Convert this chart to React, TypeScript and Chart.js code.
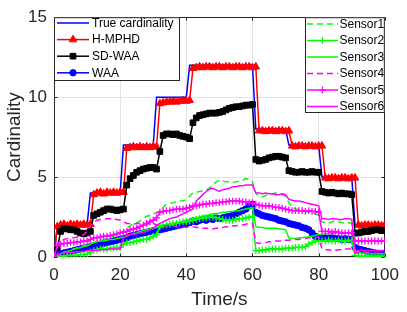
import React, { useEffect, useRef } from "react";
import { Chart, registerables } from "chart.js";

Chart.register(...registerables);

// ---------------- data ----------------
const timeS = [
  0, 1, 2, 3, 4, 5, 6, 7, 8, 9, 10, 11, 12, 13, 14, 15, 16, 17, 18, 19, 20,
  21, 22, 23, 24, 25, 26, 27, 28, 29, 30, 31, 32, 33, 34, 35, 36, 37, 38, 39, 40,
  41, 42, 43, 44, 45, 46, 47, 48, 49, 50, 51, 52, 53, 54, 55, 56, 57, 58, 59, 60,
  61, 62, 63, 64, 65, 66, 67, 68, 69, 70, 71, 72, 73, 74, 75, 76, 77, 78, 79, 80,
  81, 82, 83, 84, 85, 86, 87, 88, 89, 90, 91, 92, 93, 94, 95, 96, 97, 98, 99, 100,
];

const trueCardinality = [
  0,
  2, 2, 2, 2, 2, 2, 2, 2, 2, 2,
  4, 4, 4, 4, 4, 4, 4, 4, 4, 4,
  7, 7, 7, 7, 7, 7, 7, 7, 7, 7,
  10, 10, 10, 10, 10, 10, 10, 10, 10, 10,
  12, 12, 12, 12, 12, 12, 12, 12, 12, 12, 12, 12, 12, 12, 12, 12, 12, 12, 12, 12,
  8, 8, 8, 8, 8, 8, 8, 8, 8, 8,
  7, 7, 7, 7, 7, 7, 7, 7, 7, 7,
  5, 5, 5, 5, 5, 5, 5, 5, 5, 5,
  2, 2, 2, 2, 2, 2, 2, 2, 2, 2,
];

const hmphd = [
  0,
  1.9, 2.0, 2.05, 1.95, 2.05, 2.0, 2.05, 2.0, 2.05, 2.0, 2.05,
  3.9, 4.0, 4.05, 3.95, 4.05, 4.0, 4.05, 4.0, 4.05, 4.05,
  6.8, 6.85, 6.9, 6.85, 6.9, 6.85, 6.9, 6.85, 6.9, 6.9,
  9.6, 9.65, 9.7, 9.7, 9.75, 9.7, 9.75, 9.8, 9.75, 9.8,
  11.8, 11.85, 11.9, 11.85, 11.9, 11.9, 11.85, 11.9, 11.9, 11.85,
  11.9, 11.9, 11.85, 11.9, 11.9, 11.85, 11.9, 11.9, 11.85, 11.9,
  7.9, 7.9, 7.85, 7.9, 7.9, 7.85, 7.9, 7.9, 7.85, 7.9,
  6.95, 6.9, 6.95, 6.95, 6.9, 6.95, 6.95, 6.9, 6.95, 6.95,
  4.95, 4.9, 4.95, 4.95, 4.9, 4.95, 4.95, 4.9, 4.95, 4.95,
  2.0, 1.95, 2.0, 2.0, 1.95, 2.0, 2.0, 1.95, 2.0,
];

const sdwaa = [
  0, 0.5, 1.6, 1.8, 1.75, 1.7, 1.7, 1.6, 1.5, 1.45, 1.5, 1.6,
  2.6, 2.7, 2.8, 2.9, 3.0, 3.0, 2.95, 2.9, 2.95, 3.0,
  4.5, 4.9, 5.1, 5.3, 5.4, 5.5, 5.55, 5.6, 5.6, 5.5,
  6.6, 7.6, 7.7, 7.7, 7.65, 7.7, 7.6, 7.55, 7.5, 7.4,
  8.4, 8.7, 8.85, 8.9, 8.95, 9.0, 9.0, 9.0, 9.05, 9.1, 9.2, 9.3, 9.35, 9.4, 9.4, 9.45, 9.5, 9.5, 9.55,
  6.1, 6.0, 6.05, 6.1, 6.2, 6.25, 6.3, 6.3, 6.25, 6.2,
  5.4, 5.35, 5.3, 5.3, 5.35, 5.3, 5.3, 5.35, 5.3, 5.3,
  4.1, 4.05, 4.0, 4.05, 4.0, 3.95, 4.0, 3.95, 3.95, 3.9,
  1.5, 1.5, 1.55, 1.6, 1.6, 1.65, 1.7, 1.7, 1.65, 1.65,
];

const waa = [
  0, 0.1, 0.2, 0.25, 0.3, 0.35, 0.4, 0.45, 0.5, 0.55, 0.6,
  0.65, 0.7, 0.75, 0.8, 0.85, 0.9, 0.95, 1.0, 1.05, 1.1,
  1.15, 1.2, 1.3, 1.35, 1.4, 1.45, 1.5, 1.55, 1.6, 1.65,
  1.7, 1.7, 1.75, 1.8, 1.85, 1.9, 1.95, 2.0, 2.05, 2.1,
  2.15, 2.25, 2.2, 2.3, 2.35, 2.3, 2.4, 2.35, 2.45, 2.4,
  2.45, 2.5, 2.55, 2.6, 2.7, 2.8, 2.9, 3.0, 3.2, 3.3,
  2.8, 2.7, 2.6, 2.55, 2.5, 2.45, 2.4, 2.3, 2.25, 2.2,
  2.1, 2.05, 2.0, 1.95, 1.85, 1.8, 1.7, 1.5, 1.3, 1.2,
  1.2, 1.2, 1.15, 1.2, 1.15, 1.15, 1.1, 1.15, 1.1, 1.1,
  0.6, 0.5, 0.45, 0.4, 0.35, 0.3, 0.25, 0.2, 0.2, 0.15,
];

const sensor1 = [
  0, 0.1, 0.2, 0.3, 0.35, 0.4, 0.5, 0.55, 0.6, 0.7, 0.75,
  0.85, 0.9, 1.0, 1.05, 1.1, 1.2, 1.25, 1.3, 1.4, 1.5,
  1.6, 1.8, 1.95, 2.1, 2.15, 2.25, 2.4, 2.55, 2.6, 2.7,
  2.75, 2.9, 3.1, 3.3, 3.35, 3.4, 3.45, 3.5, 3.5, 3.6,
  3.8, 4.0, 4.05, 4.1, 4.15, 4.2, 4.3, 4.5, 4.7, 4.8,
  4.75, 4.7, 4.7, 4.65, 4.7, 4.75, 4.8, 4.9, 4.85, 4.7,
  4.0, 3.8, 3.75, 3.85, 3.9, 3.95, 4.0, 3.95, 3.9, 3.8,
  3.4, 3.1, 3.0, 2.95, 2.9, 2.85, 2.8, 2.75, 2.7, 2.6,
  2.2, 2.15, 2.1, 2.2, 2.25, 2.2, 2.15, 2.1, 2.15, 2.1,
  0.4, 0.35, 0.3, 0.3, 0.25, 0.25, 0.2, 0.2, 0.2, 0.2,
];

const sensor2 = [
  0, 0, 0.05, 0.05, 0.1, 0.1, 0.1, 0.1, 0.15, 0.15, 0.2,
  0.3, 0.4, 0.45, 0.5, 0.5, 0.5, 0.55, 0.55, 0.6, 0.6,
  0.8, 0.9, 0.9, 0.95, 1.0, 1.05, 1.1, 1.1, 1.2, 1.3,
  1.4, 1.9, 2.0, 2.0, 2.05, 2.1, 2.1, 2.15, 2.2, 2.2,
  2.25, 2.3, 2.35, 2.4, 2.45, 2.45, 2.5, 2.5, 2.45, 2.4,
  2.35, 2.3, 2.3, 2.3, 2.35, 2.4, 2.4, 2.45, 2.5, 2.5,
  0.4, 0.4, 0.45, 0.45, 0.5, 0.5, 0.5, 0.5, 0.5, 0.55,
  0.55, 0.55, 0.6, 0.6, 0.6, 0.65, 0.8, 0.9, 1.0, 1.0,
  1.0, 1.0, 1.05, 1.0, 1.0, 1.05, 1.0, 1.0, 1.05, 1.0,
  0.1, 0.05, 0.05, 0.05, 0.05, 0.05, 0.05, 0.05, 0.05, 0.05,
];

const sensor3 = [
  0, 0.1, 0.2, 0.3, 0.35, 0.4, 0.5, 0.55, 0.6, 0.65, 0.7,
  0.8, 0.9, 0.95, 1.0, 1.0, 1.05, 1.1, 1.1, 1.15, 1.2,
  1.25, 1.3, 1.4, 1.45, 1.5, 1.6, 1.65, 1.7, 1.75, 1.8,
  1.85, 1.9, 1.9, 1.95, 2.0, 2.0, 2.1, 2.15, 2.2, 2.3,
  2.35, 2.4, 2.45, 2.5, 2.55, 2.6, 2.65, 2.7, 2.7, 2.75,
  2.8, 2.8, 2.85, 2.85, 2.9, 2.9, 2.95, 3.0, 3.05, 3.1,
  1.9, 1.85, 1.85, 1.8, 1.8, 1.8, 1.8, 1.75, 1.75, 1.7,
  1.2, 1.15, 1.15, 1.2, 1.2, 1.25, 1.25, 1.3, 1.35, 1.4,
  1.4, 1.45, 1.45, 1.45, 1.5, 1.5, 1.5, 1.5, 1.5, 1.5,
  0.3, 0.25, 0.25, 0.2, 0.2, 0.2, 0.2, 0.2, 0.2, 0.2,
];

const sensor4 = [
  0, 0.8, 1.0, 1.1, 1.15, 1.2, 1.2, 1.25, 1.3, 1.4, 1.6,
  1.9, 2.2, 2.3, 2.35, 2.35, 2.4, 2.4, 2.4, 2.35, 2.3,
  2.2, 2.1, 2.1, 2.05, 2.1, 2.1, 2.1, 2.05, 2.1, 2.1,
  2.0, 2.0, 1.95, 1.95, 2.0, 1.95, 1.9, 1.9, 1.9, 1.85,
  1.9, 1.9, 1.85, 1.85, 1.8, 1.8, 1.8, 1.75, 1.8, 1.8,
  1.85, 1.9, 1.9, 1.95, 1.95, 2.0, 2.0, 2.05, 2.1, 2.1,
  0.9, 0.85, 0.9, 0.9, 0.95, 0.95, 1.0, 1.0, 1.0, 1.05,
  1.05, 1.1, 1.1, 1.1, 1.15, 1.15, 1.2, 1.2, 1.2, 1.25,
  0.5, 0.45, 0.45, 0.4, 0.4, 0.45, 0.45, 0.5, 0.5, 0.5,
  0.25, 0.25, 0.25, 0.25, 0.25, 0.25, 0.25, 0.25, 0.25, 0.25,
];

const sensor5 = [
  0, 0.7, 0.8, 0.85, 0.85, 0.9, 0.9, 0.95, 0.95, 1.0, 1.0,
  1.1, 1.2, 1.2, 1.25, 1.3, 1.3, 1.35, 1.4, 1.45, 1.5,
  1.55, 1.6, 1.7, 1.75, 1.8, 1.9, 2.0, 2.1, 2.2, 2.3,
  2.45, 2.8, 2.85, 2.9, 2.9, 2.95, 3.0, 3.0, 3.0, 3.05,
  3.1, 3.2, 3.2, 3.25, 3.3, 3.3, 3.35, 3.35, 3.4, 3.4,
  3.45, 3.45, 3.5, 3.5, 3.5, 3.5, 3.45, 3.45, 3.4, 3.4,
  3.3, 3.25, 3.2, 3.2, 3.2, 3.15, 3.1, 3.1, 3.05, 3.0,
  2.95, 2.9, 2.9, 2.9, 2.9, 2.85, 2.9, 2.85, 2.85, 2.8,
  1.6, 1.6, 1.6, 1.55, 1.6, 1.55, 1.5, 1.5, 1.5, 1.5,
  1.0, 1.0, 1.0, 1.0, 1.0, 1.0, 1.0, 1.0, 1.0, 1.0,
];

const sensor6 = [
  0, 0.15, 0.2, 0.25, 0.3, 0.3, 0.3, 0.35, 0.35, 0.35, 0.4,
  0.4, 0.4, 0.4, 0.45, 0.45, 0.45, 0.5, 0.5, 0.5, 0.5,
  1.2, 1.35, 1.4, 1.4, 1.45, 1.5, 1.55, 1.6, 1.7, 1.75,
  2.0, 2.1, 2.2, 2.3, 2.4, 2.45, 2.5, 2.6, 2.7, 2.8,
  2.9, 3.0, 3.5, 3.7, 3.9, 4.1, 4.25, 4.3, 4.2, 4.1,
  4.2, 4.25, 4.3, 4.4, 4.4, 4.45, 4.45, 4.5, 4.5, 4.5,
  4.0, 4.0, 3.95, 4.0, 3.95, 3.95, 3.9, 3.9, 3.95, 3.9,
  3.6, 3.55, 3.5, 3.5, 3.45, 3.4, 3.35, 3.3, 3.25, 3.2,
  2.4, 2.4, 2.35, 2.4, 2.4, 2.35, 2.35, 2.4, 2.4, 2.35,
  0.4, 0.4, 0.4, 0.4, 0.4, 0.4, 0.4, 0.4, 0.4, 0.4,
];

const seriesLabels = [
  "True cardinality", "H-MPHD", "SD-WAA", "WAA",
  "Sensor1", "Sensor2", "Sensor3", "Sensor4", "Sensor5", "Sensor6",
];
const seriesValues = [
  trueCardinality, hmphd, sdwaa, waa,
  sensor1, sensor2, sensor3, sensor4, sensor5, sensor6,
];
const xTicks = [0, 20, 40, 60, 80, 100];
const yTicks = [0, 5, 10, 15];

// ---------------- styles ----------------
const W = 407;
const H = 312;
const AXIS = "#262626";
const GRID = "#e3e3e3";
const FONT = '"Liberation Sans", Arial, Helvetica, sans-serif';

type Marker = "triangle" | "rect" | "circle" | "cross" | null;
interface SeriesStyle { color: string; dash: number[]; marker: Marker; radius: number; }

const seriesStyles: SeriesStyle[] = [
  { color: "#0000ff", dash: [], marker: null, radius: 0 },
  { color: "#ff0000", dash: [], marker: "triangle", radius: 4.4 },
  { color: "#000000", dash: [], marker: "rect", radius: 4 },
  { color: "#0000ff", dash: [], marker: "circle", radius: 3.2 },
  { color: "#00ff00", dash: [6, 4], marker: null, radius: 0 },
  { color: "#00ff00", dash: [], marker: "cross", radius: 3.4 },
  { color: "#00ff00", dash: [], marker: null, radius: 0 },
  { color: "#ff00ff", dash: [6, 4], marker: null, radius: 0 },
  { color: "#ff00ff", dash: [], marker: "cross", radius: 3.4 },
  { color: "#ff00ff", dash: [], marker: null, radius: 0 },
];

function drawMarker(ctx: CanvasRenderingContext2D, m: Marker, x: number, y: number, r: number, color: string) {
  if (!m) return;
  ctx.save();
  ctx.setLineDash([]);
  ctx.fillStyle = color;
  ctx.strokeStyle = color;
  ctx.lineWidth = 1;
  ctx.beginPath();
  if (m === "triangle") {
    const h = r * 1.5;
    const w = r * Math.sqrt(3);
    ctx.moveTo(x, y - r);
    ctx.lineTo(x + w / 2, y - r + h);
    ctx.lineTo(x - w / 2, y - r + h);
    ctx.closePath();
    ctx.fill();
    ctx.stroke();
  } else if (m === "rect") {
    const s = r * Math.SQRT1_2;
    ctx.rect(x - s, y - s, 2 * s, 2 * s);
    ctx.fill();
    ctx.stroke();
  } else if (m === "circle") {
    ctx.arc(x, y, r, 0, Math.PI * 2);
    ctx.fill();
    ctx.stroke();
  } else if (m === "cross") {
    ctx.lineWidth = 1.2;
    ctx.moveTo(x - r, y);
    ctx.lineTo(x + r, y);
    ctx.moveTo(x, y - r);
    ctx.lineTo(x, y + r);
    ctx.stroke();
  }
  ctx.restore();
}

function drawLegendBox(
  ctx: CanvasRenderingContext2D,
  box: { x0: number; y0: number; x1: number; y1: number },
  idx: number[],
  firstRow: number,
  rowGap: number,
  lineX0: number,
  lineX1: number,
  textX: number,
) {
  ctx.save();
  ctx.fillStyle = "#ffffff";
  ctx.fillRect(box.x0, box.y0, box.x1 - box.x0, box.y1 - box.y0);
  ctx.strokeStyle = AXIS;
  ctx.lineWidth = 1;
  ctx.setLineDash([]);
  ctx.strokeRect(box.x0 + 0.5, box.y0 + 0.5, box.x1 - box.x0 - 1, box.y1 - box.y0 - 1);
  ctx.font = `12px ${FONT}`;
  ctx.textBaseline = "middle";
  ctx.textAlign = "left";
  idx.forEach((i, k) => {
    const st = seriesStyles[i];
    const y = firstRow + k * rowGap;
    ctx.strokeStyle = st.color;
    ctx.lineWidth = 1.5;
    ctx.setLineDash(st.dash);
    ctx.beginPath();
    ctx.moveTo(lineX0, y);
    ctx.lineTo(lineX1, y);
    ctx.stroke();
    ctx.setLineDash([]);
    drawMarker(ctx, st.marker, (lineX0 + lineX1) / 2, y, st.marker === "cross" ? 3.5 : st.radius, st.color);
    ctx.fillStyle = "#000000";
    ctx.fillText(seriesLabels[i], textX, y + 0.5);
  });
  ctx.restore();
}

const framePlugin = {
  id: "matlabFrame",
  beforeDatasetsDraw(chart: any) {
    const { ctx, chartArea } = chart;
    const { left, right, top, bottom } = chartArea;
    const xs = chart.scales.x;
    const ys = chart.scales.y;
    ctx.save();
    ctx.strokeStyle = AXIS;
    ctx.lineWidth = 1;
    ctx.setLineDash([]);
    ctx.strokeRect(Math.round(left) + 0.5, Math.round(top) + 0.5, Math.round(right - left) - 1, Math.round(bottom - top) - 1);
    const tl = 3.5;
    ctx.beginPath();
    xTicks.forEach((v) => {
      const px = Math.round(xs.getPixelForValue(v)) + 0.5;
      ctx.moveTo(px, bottom);
      ctx.lineTo(px, bottom - tl);
      ctx.moveTo(px, top);
      ctx.lineTo(px, top + tl);
    });
    yTicks.forEach((v) => {
      const py = Math.round(ys.getPixelForValue(v)) + 0.5;
      ctx.moveTo(left, py);
      ctx.lineTo(left + tl, py);
      ctx.moveTo(right, py);
      ctx.lineTo(right - tl, py);
    });
    ctx.stroke();
    ctx.restore();
  },
  afterDraw(chart: any) {
    const { ctx, chartArea } = chart;
    const { left, right, top } = chartArea;
    drawLegendBox(ctx, { x0: left, y0: top, x1: 180, y1: 81 }, [0, 1, 2, 3], 23, 16.6, 57, 89, 92);
    drawLegendBox(ctx, { x0: 305, y0: top, x1: right, y1: 113 }, [4, 5, 6, 7, 8, 9], 24, 16.5, 307, 338, 339.5);
  },
};

export default function App() {
  const ref = useRef<HTMLCanvasElement | null>(null);

  useEffect(() => {
    if (!ref.current) return;
    const datasets = seriesValues.map((vals, i) => {
      const st = seriesStyles[i];
      return {
        label: seriesLabels[i],
        data: timeS.map((t, k) => ({ x: t, y: vals[k] })),
        borderColor: st.color,
        backgroundColor: st.color,
        borderWidth: 1.5,
        borderDash: st.dash,
        pointStyle: st.marker || "circle",
        pointRadius: st.marker ? st.radius : 0,
        pointHoverRadius: 0,
        pointBorderWidth: st.marker === "cross" ? 1.3 : 1,
        pointBackgroundColor: st.color,
        pointBorderColor: st.color,
        fill: false,
        tension: 0,
        order: 20 - i,
      };
    });

    const chart = new Chart(ref.current, {
      type: "line",
      data: { datasets } as any,
      plugins: [framePlugin],
      options: {
        animation: false,
        responsive: false,
        devicePixelRatio: 1,
        events: [],
        layout: { padding: { left: 0, right: 18, top: 12, bottom: 0 } },
        plugins: { legend: { display: false }, tooltip: { enabled: false } },
        scales: {
          x: {
            type: "linear",
            min: 0,
            max: 100,
            afterBuildTicks: (s: any) => { s.ticks = xTicks.map((v) => ({ value: v })); },
            ticks: { color: AXIS, font: { family: FONT, size: 17 }, padding: 8, maxRotation: 0, autoSkip: false },
            grid: { color: GRID, drawTicks: false, lineWidth: 1 },
            border: { display: false },
            title: { display: true, text: "Time/s", color: AXIS, font: { family: FONT, size: 19 }, padding: { top: 0, bottom: 1 } },
            afterFit: (s: any) => { s.height = 55; },
          },
          y: {
            type: "linear",
            min: 0,
            max: 15,
            afterBuildTicks: (s: any) => { s.ticks = yTicks.map((v) => ({ value: v })); },
            ticks: { color: AXIS, font: { family: FONT, size: 17 }, padding: 7 },
            grid: { color: GRID, drawTicks: false, lineWidth: 1 },
            border: { display: false },
            title: { display: true, text: "Cardinality", color: AXIS, font: { family: FONT, size: 19 }, padding: { top: 3, bottom: 0 } },
            afterFit: (s: any) => { s.width = 54; },
          },
        },
      } as any,
    });
    return () => chart.destroy();
  }, []);

  return (
    <div style={{ position: "fixed", left: 0, top: 0, width: W, height: H, background: "#ffffff" }}>
      <canvas ref={ref} width={W} height={H} style={{ width: W, height: H, display: "block" }} />
    </div>
  );
}
